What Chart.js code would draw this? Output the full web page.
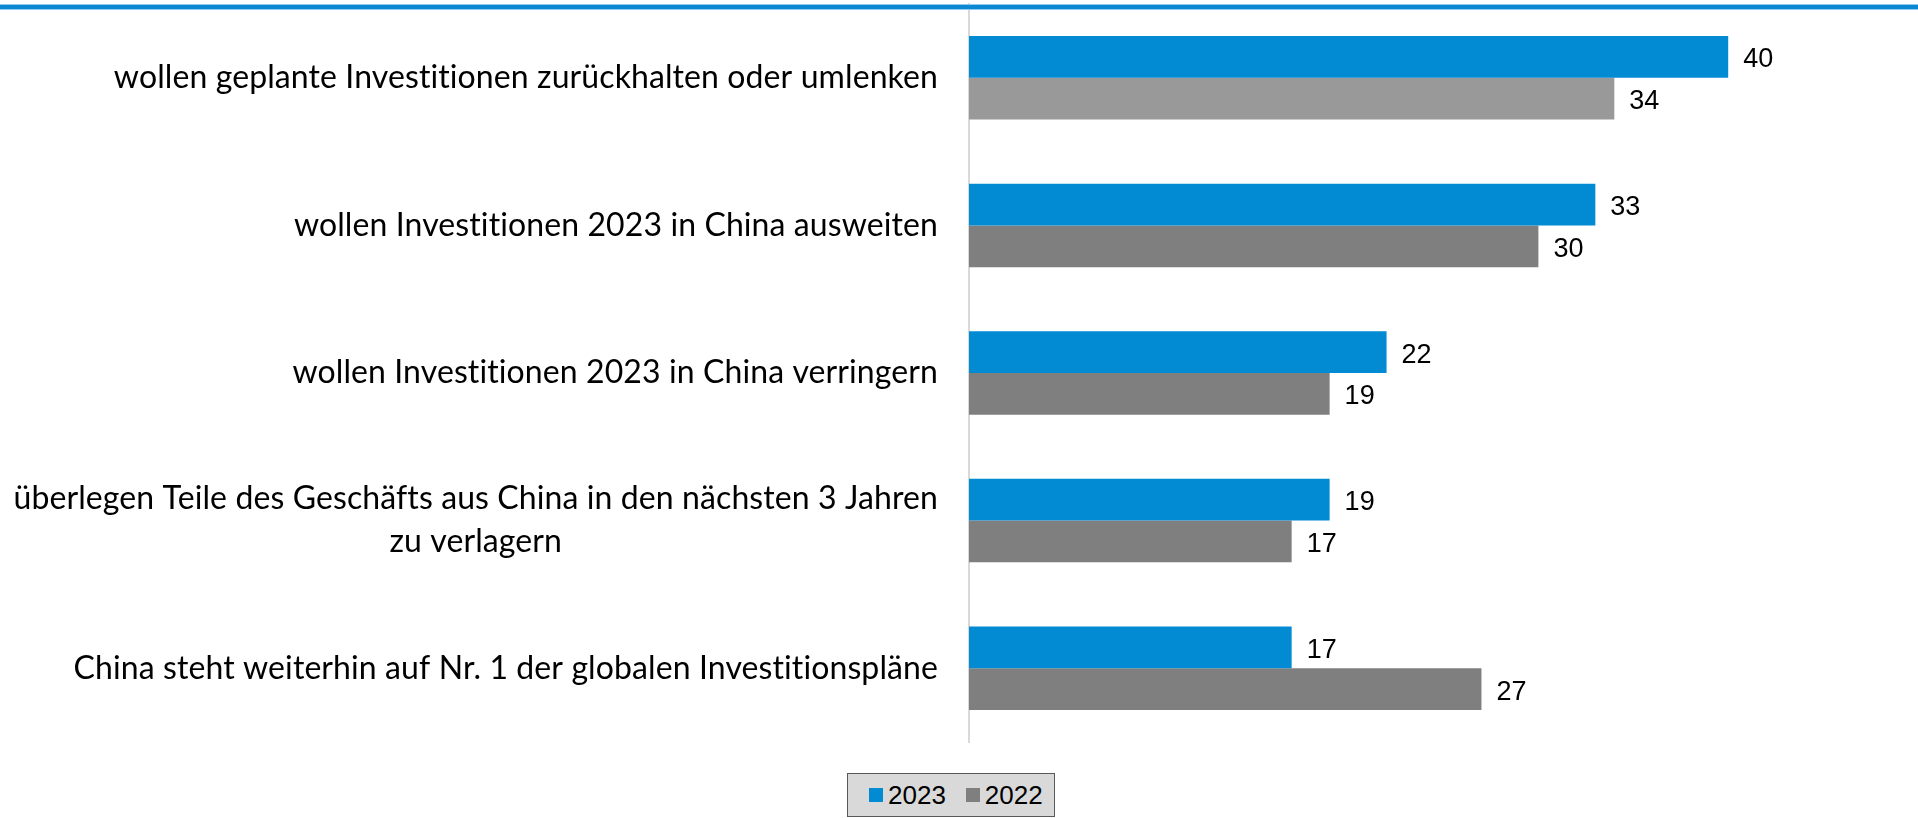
<!DOCTYPE html>
<html>
<head>
<meta charset="utf-8">
<script src="https://cdn.jsdelivr.net/npm/chart.js@4/dist/chart.umd.min.js"></script>
<style>
  body { margin: 0; background: #fff; overflow: hidden; }
  #wrap { position: relative; width: 1918px; height: 818px; }
  #topline { position: absolute; left: 0; top: 4px; width: 1918px; height: 4px;
             background: #0a88d4; border-top: 1px solid #8ec9ef; border-bottom: 1px solid #8ec9ef; }
  #legend { position: absolute; left: 847px; top: 773px; height: 42px; padding: 0 11px 0 21px;
            background: #d9d9d9; border: 1px solid #595959; display: flex; align-items: center;
            font: 26px "Liberation Sans", Arial, sans-serif; color: #000; }
  #legend .sq { width: 14px; height: 14px; display: inline-block; margin-right: 5px; }
  #legend .it { display: flex; align-items: center; margin-right: 20px; }
  #legend .it:last-child { margin-right: 0; }
</style>
</head>
<body>
<div id="wrap">
  <canvas id="chart" width="1918" height="818"></canvas>
  <div id="topline"></div>
  <div id="legend"></div>
</div>
<script>
// Daten
const categories = [
  'wollen geplante Investitionen zurückhalten oder umlenken',
  'wollen Investitionen 2023 in China ausweiten',
  'wollen Investitionen 2023 in China verringern',
  ['überlegen Teile des Geschäfts aus China in den nächsten 3 Jahren', 'zu verlagern'],
  'China steht weiterhin auf Nr. 1 der globalen Investitionspläne'
];
const values2023 = [40, 33, 22, 19, 17];
const values2022 = [34, 30, 19, 17, 27];
const seriesNames = ['2023', '2022'];

const blue = '#028ad3';
const grey = '#7f7f7f';
const greyLight = '#999999';

// Werte und Kategorien selbst zeichnen (mehrzeilige Labels zentriert)
const labelPlugin = {
  id: 'labelPlugin',
  afterDatasetsDraw(chart) {
    const ctx = chart.ctx;
    ctx.save();
    ctx.fillStyle = '#000';
    ctx.textBaseline = 'middle';
    ctx.font = '27px "Liberation Sans", Arial, sans-serif';
    ctx.textAlign = 'left';
    chart.data.datasets.forEach((ds, di) => {
      chart.getDatasetMeta(di).data.forEach((bar, i) => {
        ctx.fillText(String(ds.data[i]), bar.x + 15, bar.y + 3);
      });
    });

    const yScale = chart.scales.y;
    ctx.font = '32px Lato, "Noto Sans", sans-serif';
    ctx.letterSpacing = '0.1px'; // keine ti-Ligatur
    ctx.textAlign = 'center';
    categories.forEach((lab, i) => {
      const lines = Array.isArray(lab) ? lab : [lab];
      const w = Math.max(...lines.map(l => ctx.measureText(l).width));
      const cx = chart.chartArea.left - 31 - w / 2;
      const cy = yScale.getPixelForTick(i);
      lines.forEach((l, k) => {
        ctx.fillText(l, cx, cy + (k - (lines.length - 1) / 2) * 43);
      });
    });
    ctx.restore();
  }
};

new Chart(document.getElementById('chart'), {
  type: 'bar',
  data: {
    labels: categories,
    datasets: [{
      label: seriesNames[0],
      data: values2023,
      backgroundColor: blue,
      borderWidth: 0
    }, {
      label: seriesNames[1],
      data: values2022,
      backgroundColor: [greyLight, grey, grey, grey, grey],
      borderWidth: 0
    }]
  },
  options: {
    indexAxis: 'y',
    responsive: false,
    devicePixelRatio: 1,
    animation: false,
    layout: { padding: { top: 4, bottom: 76, left: 0, right: 0 } },
    categoryPercentage: 0.566,
    barPercentage: 1,
    scales: {
      x: { display: false, min: 0, max: 50 },
      y: {
        grid: { display: false },
        border: { display: true, color: '#d9d9d9', width: 2 },
        ticks: { display: false },
        afterFit: s => { s.width = 969; }
      }
    },
    plugins: {
      legend: { display: false },
      tooltip: { enabled: false }
    }
  },
  plugins: [labelPlugin]
});

// Legende
const legendColors = [blue, grey];
document.getElementById('legend').innerHTML = seriesNames.map((n, i) =>
  `<span class="it"><span class="sq" style="background:${legendColors[i]}"></span>${n}</span>`).join('');
</script>
</body>
</html>
